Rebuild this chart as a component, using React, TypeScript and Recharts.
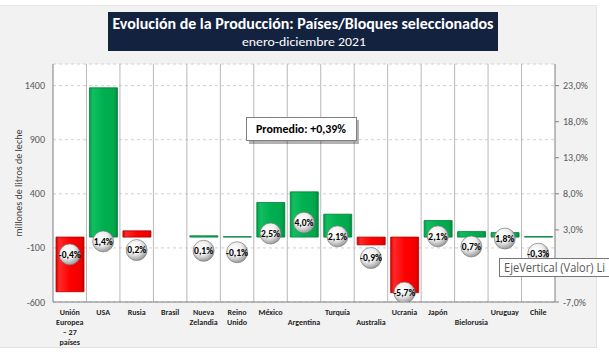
import React from 'react';
import { ComposedChart, Bar, Line, XAxis, YAxis, CartesianGrid, Cell } from 'recharts';

// ---------- data ----------
const categories: string[] = [
  'Unión\nEuropea\n– 27\npaíses',
  'USA',
  'Rusia',
  'Brasil',
  'Nueva\nZelandia',
  'Reino\nUnido',
  'México',
  '\nArgentina',
  'Turquía',
  '\nAustralia',
  'Ucrania',
  'Japón',
  '\nBielorusia',
  'Uruguay',
  'Chile',
];
// variation in millones de litros (left axis)
const volumeChange: (number | null)[] = [-505, 1380, 58, null, 12, 4, 320, 418, 212, -72, -514, 153, 51, 42, 5];
// variation in % (right axis)
const pctChange: (number | null)[] = [-0.4, 1.4, 0.2, null, 0.1, -0.1, 2.5, 4.0, 2.1, -0.9, -5.7, 2.1, 0.7, 1.8, -0.3];
const leftTicks = [-600, -100, 400, 900, 1400];
const rightTicks = [-7, -2, 3, 8, 13, 18, 23];
const hiddenRightTickLabels = [-2]; // covered by the hover tooltip in the reference
const redOverride = ['Rusia'];
const titleText = 'Evolución de la Producción: Países/Bloques seleccionados';
const subtitleText = 'enero-diciembre 2021';
const yAxisTitle = 'millones de litros de leche';
const averageText = 'Promedio: +0,39%';
const hoverText = 'EjeVertical (Valor)  Li';

const data = categories.map((name, i) => ({ name, vol: volumeChange[i], pct: pctChange[i] }));

const FONT = "Carlito, Calibri, Lato, 'Liberation Sans', sans-serif";
const GREEN = '#00b050';
const RED = '#ff0000';

const fmtPct = (v: number) => v.toFixed(1).replace('.', ',') + '%';

const barColor = (name: string, v: number | null) => {
  const clean = name.replace(/\n/g, ' ').trim();
  if (redOverride.includes(clean)) return 'red';
  return v != null && v < 0 ? 'red' : 'green';
};

const XTick = (props: any) => {
  const { x, y, payload } = props;
  const lines = String(payload.value).split('\n');
  return (
    <g transform={`translate(${x},${y})`}>
      {lines.map((l, i) =>
        l ? (
          <text key={i} x={0} y={13 + i * 10} textAnchor="middle" fontSize={8} fontWeight="bold" fill="#262626" fontFamily={FONT}>
            {l}
          </text>
        ) : null
      )}
    </g>
  );
};

const Bubble = (props: any) => {
  const { cx, cy, payload } = props;
  if (cx == null || cy == null || payload == null || payload.pct == null) return <g />;
  return (
    <g>
      <circle cx={cx} cy={cy} r={10.5} fill="url(#sphere)" stroke="#7a7a7a" strokeWidth={0.7} />
      <text x={cx} y={cy} dy={3.3} textAnchor="middle" fontSize={9.5} fontWeight="bold" fill="#000" fontFamily={FONT}>
        {fmtPct(payload.pct)}
      </text>
    </g>
  );
};

const vGen = ({ offset }: any) => {
  const n = categories.length;
  const out: number[] = [];
  for (let i = 1; i < n; i++) out.push(offset.left + (i * offset.width) / n);
  return out;
};

export default function App() {
  return (
    <div style={{ position: 'fixed', left: 0, top: 0, width: 609, height: 353, background: '#ffffff', overflow: 'hidden' }}>
      <div
        style={{
          position: 'absolute',
          left: 0,
          top: 5,
          width: 597,
          height: 343,
          background: '#f2f2f2',
          borderTop: '1px solid #e4e4e4',
          borderRight: '1px solid #e4e4e4',
          borderBottom: '1px solid #e4e4e4',
          boxSizing: 'border-box',
        }}
      />
      <div style={{ position: 'absolute', left: 0, top: 0 }}>
        <ComposedChart width={597} height={348} data={data} margin={{ top: 64, right: 0, bottom: 0, left: 0 }} barCategoryGap={0}>
          <defs>
            <radialGradient id="sphere" cx="40%" cy="35%" r="70%">
              <stop offset="0%" stopColor="#ffffff" />
              <stop offset="50%" stopColor="#eeeeee" />
              <stop offset="100%" stopColor="#8e8e8e" />
            </radialGradient>
            <linearGradient id="gGreen" x1="0" y1="0" x2="1" y2="0">
              <stop offset="0%" stopColor="#00a047" />
              <stop offset="12%" stopColor="#10c060" />
              <stop offset="50%" stopColor={GREEN} />
              <stop offset="88%" stopColor="#00a84c" />
              <stop offset="100%" stopColor="#008a3c" />
            </linearGradient>
            <linearGradient id="gRed" x1="0" y1="0" x2="1" y2="0">
              <stop offset="0%" stopColor="#e00000" />
              <stop offset="12%" stopColor="#ff2a2a" />
              <stop offset="50%" stopColor={RED} />
              <stop offset="88%" stopColor="#f00000" />
              <stop offset="100%" stopColor="#c80000" />
            </linearGradient>
          </defs>
          <CartesianGrid
            xAxisId="bottom"
            yAxisId="left"
            vertical={false}
            horizontal={true}
            stroke="#d0d0d0"
            strokeDasharray="3 3"
            fill="#ffffff"
          />
          <CartesianGrid
            xAxisId="bottom"
            yAxisId="left"
            horizontal={false}
            vertical={true}
            stroke="#b8b8b8"
            verticalCoordinatesGenerator={vGen}
          />
          <XAxis
            xAxisId="bottom"
            dataKey="name"
            height={46}
            interval={0}
            tick={<XTick />}
            tickLine={false}
            tickSize={0}
            tickMargin={0}
            axisLine={{ stroke: '#7f7f7f' }}
          />
          <XAxis xAxisId="top" orientation="top" dataKey="name" height={0} tick={false} tickLine={false} axisLine={{ stroke: '#7f7f7f' }} />
          <YAxis
            yAxisId="left"
            width={53}
            domain={[-600, 1600]}
            ticks={leftTicks}
            allowDataOverflow
            tickLine={false}
            tickSize={0}
            tickMargin={8}
            axisLine={{ stroke: '#7f7f7f' }}
            tick={{ fontSize: 10, fill: '#595959', fontFamily: FONT }}
          />
          <YAxis
            yAxisId="right"
            orientation="right"
            width={42}
            domain={[-7, 26]}
            ticks={rightTicks}
            allowDataOverflow
            tickLine={{ stroke: '#7f7f7f' }}
            tickSize={4}
            tickMargin={4}
            axisLine={{ stroke: '#7f7f7f' }}
            tickFormatter={(v: number) => (hiddenRightTickLabels.includes(v) ? '' : fmtPct(v))}
            tick={{ fontSize: 10, fill: '#595959', fontFamily: FONT }}
          />
          <Bar xAxisId="bottom" yAxisId="left" dataKey="vol" barSize={28} isAnimationActive={false}>
            {data.map((d, i) => {
              const c = barColor(d.name, d.vol);
              return (
                <Cell
                  key={i}
                  fill={c === 'red' ? 'url(#gRed)' : 'url(#gGreen)'}
                  stroke={c === 'red' ? '#b00000' : '#00803a'}
                  strokeWidth={0.8}
                />
              );
            })}
          </Bar>
          <Line
            xAxisId="bottom"
            yAxisId="right"
            dataKey="pct"
            stroke="none"
            dot={<Bubble />}
            activeDot={false}
            isAnimationActive={false}
            connectNulls={false}
          />
        </ComposedChart>
      </div>
      <svg width={609} height={353} style={{ position: 'absolute', left: 0, top: 0, pointerEvents: 'none' }}>
        <rect x={108} y={12} width={390} height={39} fill="#13223f" />
        <text x={303} y={28.5} textAnchor="middle" fontSize={15} fontWeight="bold" fill="#ffffff" fontFamily={FONT} textLength={381} lengthAdjust="spacingAndGlyphs">
          {titleText}
        </text>
        <text x={304} y={46} textAnchor="middle" fontSize={12.5} fill="#ffffff" fontFamily={FONT} textLength={124} lengthAdjust="spacingAndGlyphs">
          {subtitleText}
        </text>
        <text
          x={20}
          y={183}
          transform="rotate(-90 20 183)"
          textAnchor="middle"
          dominantBaseline="middle"
          fontSize={9.5}
          fill="#404040"
          fontFamily={FONT}
          textLength={107}
          lengthAdjust="spacingAndGlyphs"
        >
          {yAxisTitle}
        </text>
        <rect x={249} y={120} width={110} height={24} fill="rgba(0,0,0,0.3)" />
        <rect x={246.5} y={117.5} width={110} height={23} fill="#ffffff" stroke="#7f7f7f" strokeWidth={1} />
        <text x={301} y={133} textAnchor="middle" fontSize={12} fontWeight="bold" fill="#000" fontFamily={FONT} textLength={90} lengthAdjust="spacingAndGlyphs">
          {averageText}
        </text>
        <rect x={499.5} y={258.5} width={120} height={18} fill="#ffffff" stroke="#767676" strokeWidth={1} />
        <text x={504} y={272} fontSize={12} fill="#575757" fontFamily="'Open Sans', 'DejaVu Sans', sans-serif" textLength={101} lengthAdjust="spacingAndGlyphs">
          {hoverText}
        </text>
      </svg>
    </div>
  );
}
